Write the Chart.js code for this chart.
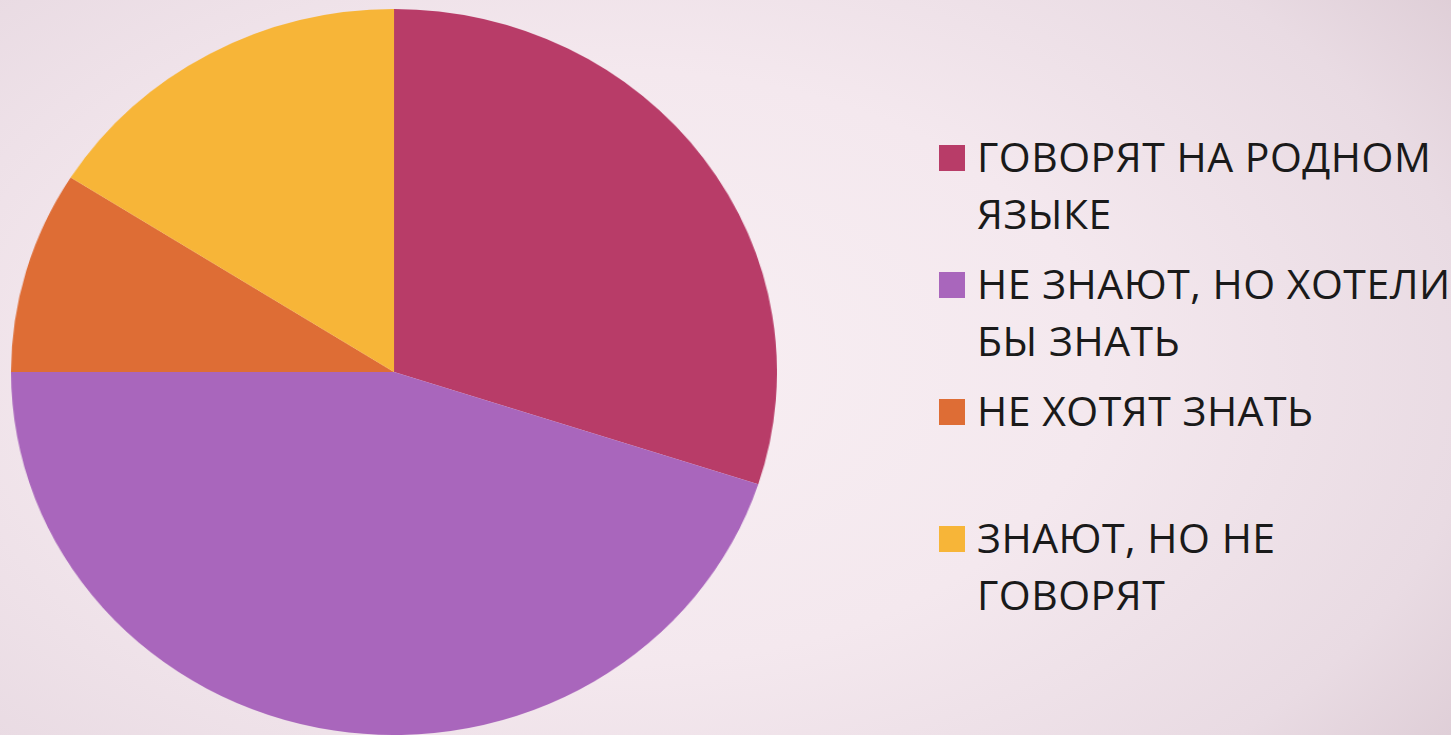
<!DOCTYPE html>
<html>
<head>
<meta charset="utf-8">
<script src="https://cdn.jsdelivr.net/npm/chart.js@4/dist/chart.umd.min.js"></script>
<style>
  html, body {
    margin: 0;
    padding: 0;
    width: 1451px;
    height: 735px;
    overflow: hidden;
  }
  body {
    background: radial-gradient(ellipse 75% 90% at 42% 50%, #f8eff3 0%, #f4e8ee 45%, #e9dbe3 80%, #dccbd4 100%);
    position: relative;
  }
  #pieWrap {
    position: absolute;
    left: 31px;
    top: 9px;
    width: 726px;
    height: 726px;
    transform: scaleX(1.055);
    transform-origin: 363px 363px;
  }
  #legend {
    position: absolute;
    left: 939px;
    top: 128px;
    font-family: "Open Sans", sans-serif;
    font-size: 41px;
    letter-spacing: 0.5px;
    color: #1a1a1a;
  }
  .item {
    position: relative;
    height: 127px;
    padding-left: 38px;
    line-height: 57px;
  }
  .box {
    position: absolute;
    left: 0;
    top: 17px;
    width: 26px;
    height: 26px;
  }
</style>
</head>
<body>
<div id="pieWrap"><canvas id="pie" width="726" height="726"></canvas></div>
<div id="legend"></div>
<script>
// Chart data (percent)
const labels = ['ГОВОРЯТ НА РОДНОМ ЯЗЫКЕ', 'НЕ ЗНАЮТ, НО ХОТЕЛИ БЫ ЗНАТЬ', 'НЕ ХОТЯТ ЗНАТЬ', 'ЗНАЮТ, НО НЕ ГОВОРЯТ'];
const legendLines = [['ГОВОРЯТ НА РОДНОМ', 'ЯЗЫКЕ'], ['НЕ ЗНАЮТ, НО ХОТЕЛИ', 'БЫ ЗНАТЬ'], ['НЕ ХОТЯТ ЗНАТЬ'], ['ЗНАЮТ, НО НЕ', 'ГОВОРЯТ']];
const values = [30, 45, 9, 16];
const colors = ['#b83c68', '#a966bc', '#de6d35', '#f7b538'];

const chart = new Chart(document.getElementById('pie'), {
    type: 'pie',
    data: {
        labels: labels,
        datasets: [{
            data: values,
            backgroundColor: colors,
            borderWidth: 0
        }]
    },
    options: {
        responsive: false,
        animation: false,
        layout: { padding: 0 },
        plugins: {
            legend: { display: false },
            tooltip: { enabled: false }
        }
    }
});

// HTML legend so the labels can wrap like the original
const legend = document.getElementById('legend');
chart.data.labels.forEach(function (label, i) {
    let item = document.createElement('div');
    item.className = 'item';
    let box = document.createElement('span');
    box.className = 'box';
    box.style.background = chart.data.datasets[0].backgroundColor[i];
    item.appendChild(box);
    item.innerHTML += legendLines[i].join('<br>');
    legend.appendChild(item);
});
</script>
</body>
</html>
